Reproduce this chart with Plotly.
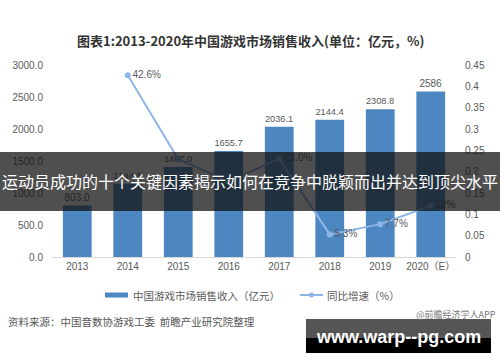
import plotly.graph_objects as go

years = ["2013", "2014", "2015", "2016", "2017", "2018", "2019", "2020（E）"]
revenue = [803.0, 1144.8, 1407.0, 1655.7, 2036.1, 2144.4, 2308.8, 2586]
revenue_labels = ["803.0", "1144.8", "1407.0", "1655.7", "2036.1", "2144.4", "2308.8", "2586"]
growth = [None, 0.426, 0.229, 0.177, 0.230, 0.053, 0.077, 0.12]
growth_labels = ["", "42.6%", "", "", "23.0%", "5.3%", "7.7%", "12%"]

title_text = "<b>图表1:2013-2020年中国游戏市场销售收入(单位：亿元，%)</b>"
bar_name = "中国游戏市场销售收入（亿元）"
line_name = "同比增速（%）"
source_text = "资料来源：中国音数协游戏工委  前瞻产业研究院整理"
app_text = "@前瞻经济学人APP"
banner_text = "运动员成功的十个关键因素揭示如何在竞争中脱颖而出并达到顶尖水平"
site_text = "www.warp--pg.com"

FONT = "Liberation Sans, Noto Sans CJK SC, sans-serif"
CJK = "Noto Sans CJK SC, sans-serif"
GRAY = "#595959"
BAR_C = "#4d87c2"
LINE_C = "#8db6e8"

W, H = 500, 362
L, R, T, B = 52, 44, 65, 105
PW, PH = W - L - R, H - T - B

def px(x):
    return (x - L) / PW

def py(y):
    return (H - B - y) / PH

fig = go.Figure()
fig.add_trace(go.Bar(
    x=years, y=revenue, text=revenue_labels, textposition="outside",
    textfont=dict(size=10, color=GRAY, family=FONT),
    marker=dict(color=BAR_C, line=dict(width=0)),
    cliponaxis=False, showlegend=False, name=bar_name,
))
fig.add_trace(go.Scatter(
    x=years, y=growth, yaxis="y2", mode="lines+markers+text",
    text=growth_labels, textposition="middle right",
    textfont=dict(size=10, color=GRAY, family=FONT),
    line=dict(color=LINE_C, width=2), marker=dict(color=LINE_C, size=6),
    cliponaxis=False, showlegend=False, name=line_name,
))

fig.update_layout(
    width=W, height=H,
    margin=dict(l=L, r=R, t=T, b=B),
    paper_bgcolor="white", plot_bgcolor="white",
    bargap=0.43,
    font=dict(family=FONT, size=10, color=GRAY),
    xaxis=dict(showgrid=False, showline=True, linecolor="#d9d9d9", linewidth=1,
               ticks="", tickfont=dict(size=10, color=GRAY, family=FONT)),
    yaxis=dict(range=[0, 3000], dtick=500, tickformat=".1f", showgrid=False,
               zeroline=False, showline=False, ticks="", ticklabelstandoff=8,
               tickfont=dict(size=10, color=GRAY, family=FONT)),
    yaxis2=dict(range=[0, 0.45], dtick=0.05, overlaying="y", side="right",
                showgrid=False, zeroline=False, showline=False, ticks="",
                ticklabelstandoff=8,
                tickfont=dict(size=10, color=GRAY, family=FONT)),
)

shapes = []
annotations = []

# Title
annotations.append(dict(text=title_text, x=px(250), y=py(40), xref="paper", yref="paper",
                        showarrow=False, xanchor="center", yanchor="middle",
                        font=dict(size=13, color="#333333", family=CJK)))

# Manual legend
shapes.append(dict(type="rect", xref="paper", yref="paper",
                   x0=px(105), x1=px(128), y0=py(297.5), y1=py(292.5),
                   fillcolor=BAR_C, line=dict(width=0)))
annotations.append(dict(text=bar_name, x=px(131), y=py(295), xref="paper", yref="paper",
                        showarrow=False, xanchor="left", yanchor="middle",
                        font=dict(size=10.5, color=GRAY, family=CJK)))
shapes.append(dict(type="line", xref="paper", yref="paper",
                   x0=px(300), x1=px(323), y0=py(295), y1=py(295),
                   line=dict(color=LINE_C, width=2)))
shapes.append(dict(type="circle", xref="paper", yref="paper",
                   x0=px(309), x1=px(314), y0=py(297.5), y1=py(292.5),
                   fillcolor=LINE_C, line=dict(width=0)))
annotations.append(dict(text=line_name, x=px(325), y=py(295), xref="paper", yref="paper",
                        showarrow=False, xanchor="left", yanchor="middle",
                        font=dict(size=10.5, color=GRAY, family=CJK)))

# Source lines
annotations.append(dict(text=source_text, x=px(6), y=py(321), xref="paper", yref="paper",
                        showarrow=False, xanchor="left", yanchor="middle",
                        font=dict(size=10.5, color="#555555", family=CJK)))
annotations.append(dict(text=app_text, x=px(498), y=py(314), xref="paper", yref="paper",
                        showarrow=False, xanchor="right", yanchor="middle",
                        font=dict(size=9, color="#777777", family=CJK)))

# Banner overlay
shapes.append(dict(type="rect", xref="paper", yref="paper", layer="above",
                   x0=px(0), x1=px(500), y0=py(211), y1=py(152),
                   fillcolor="rgba(18,18,18,0.74)", line=dict(width=0)))
annotations.append(dict(text=banner_text, x=px(250), y=py(181), xref="paper", yref="paper",
                        showarrow=False, xanchor="center", yanchor="middle",
                        font=dict(size=16, color="white", family=CJK)))

# Site watermark box
shapes.append(dict(type="rect", xref="paper", yref="paper", layer="above",
                   x0=px(306), x1=px(491), y0=py(338), y1=py(319),
                   fillcolor="#555555", line=dict(width=0)))
shapes.append(dict(type="rect", xref="paper", yref="paper", layer="above",
                   x0=px(306), x1=px(491), y0=py(353), y1=py(338),
                   fillcolor="#000000", line=dict(width=0)))
annotations.append(dict(text="<b>" + site_text + "</b>", x=px(398), y=py(337), xref="paper", yref="paper",
                        showarrow=False, xanchor="center", yanchor="middle",
                        font=dict(size=18, color="white", family="Liberation Sans, Arial, sans-serif")))

fig.update_layout(shapes=shapes, annotations=annotations)
fig.write_html("out.html", config={"displayModeBar": False},
               post_script="document.body.style.margin='0';")
